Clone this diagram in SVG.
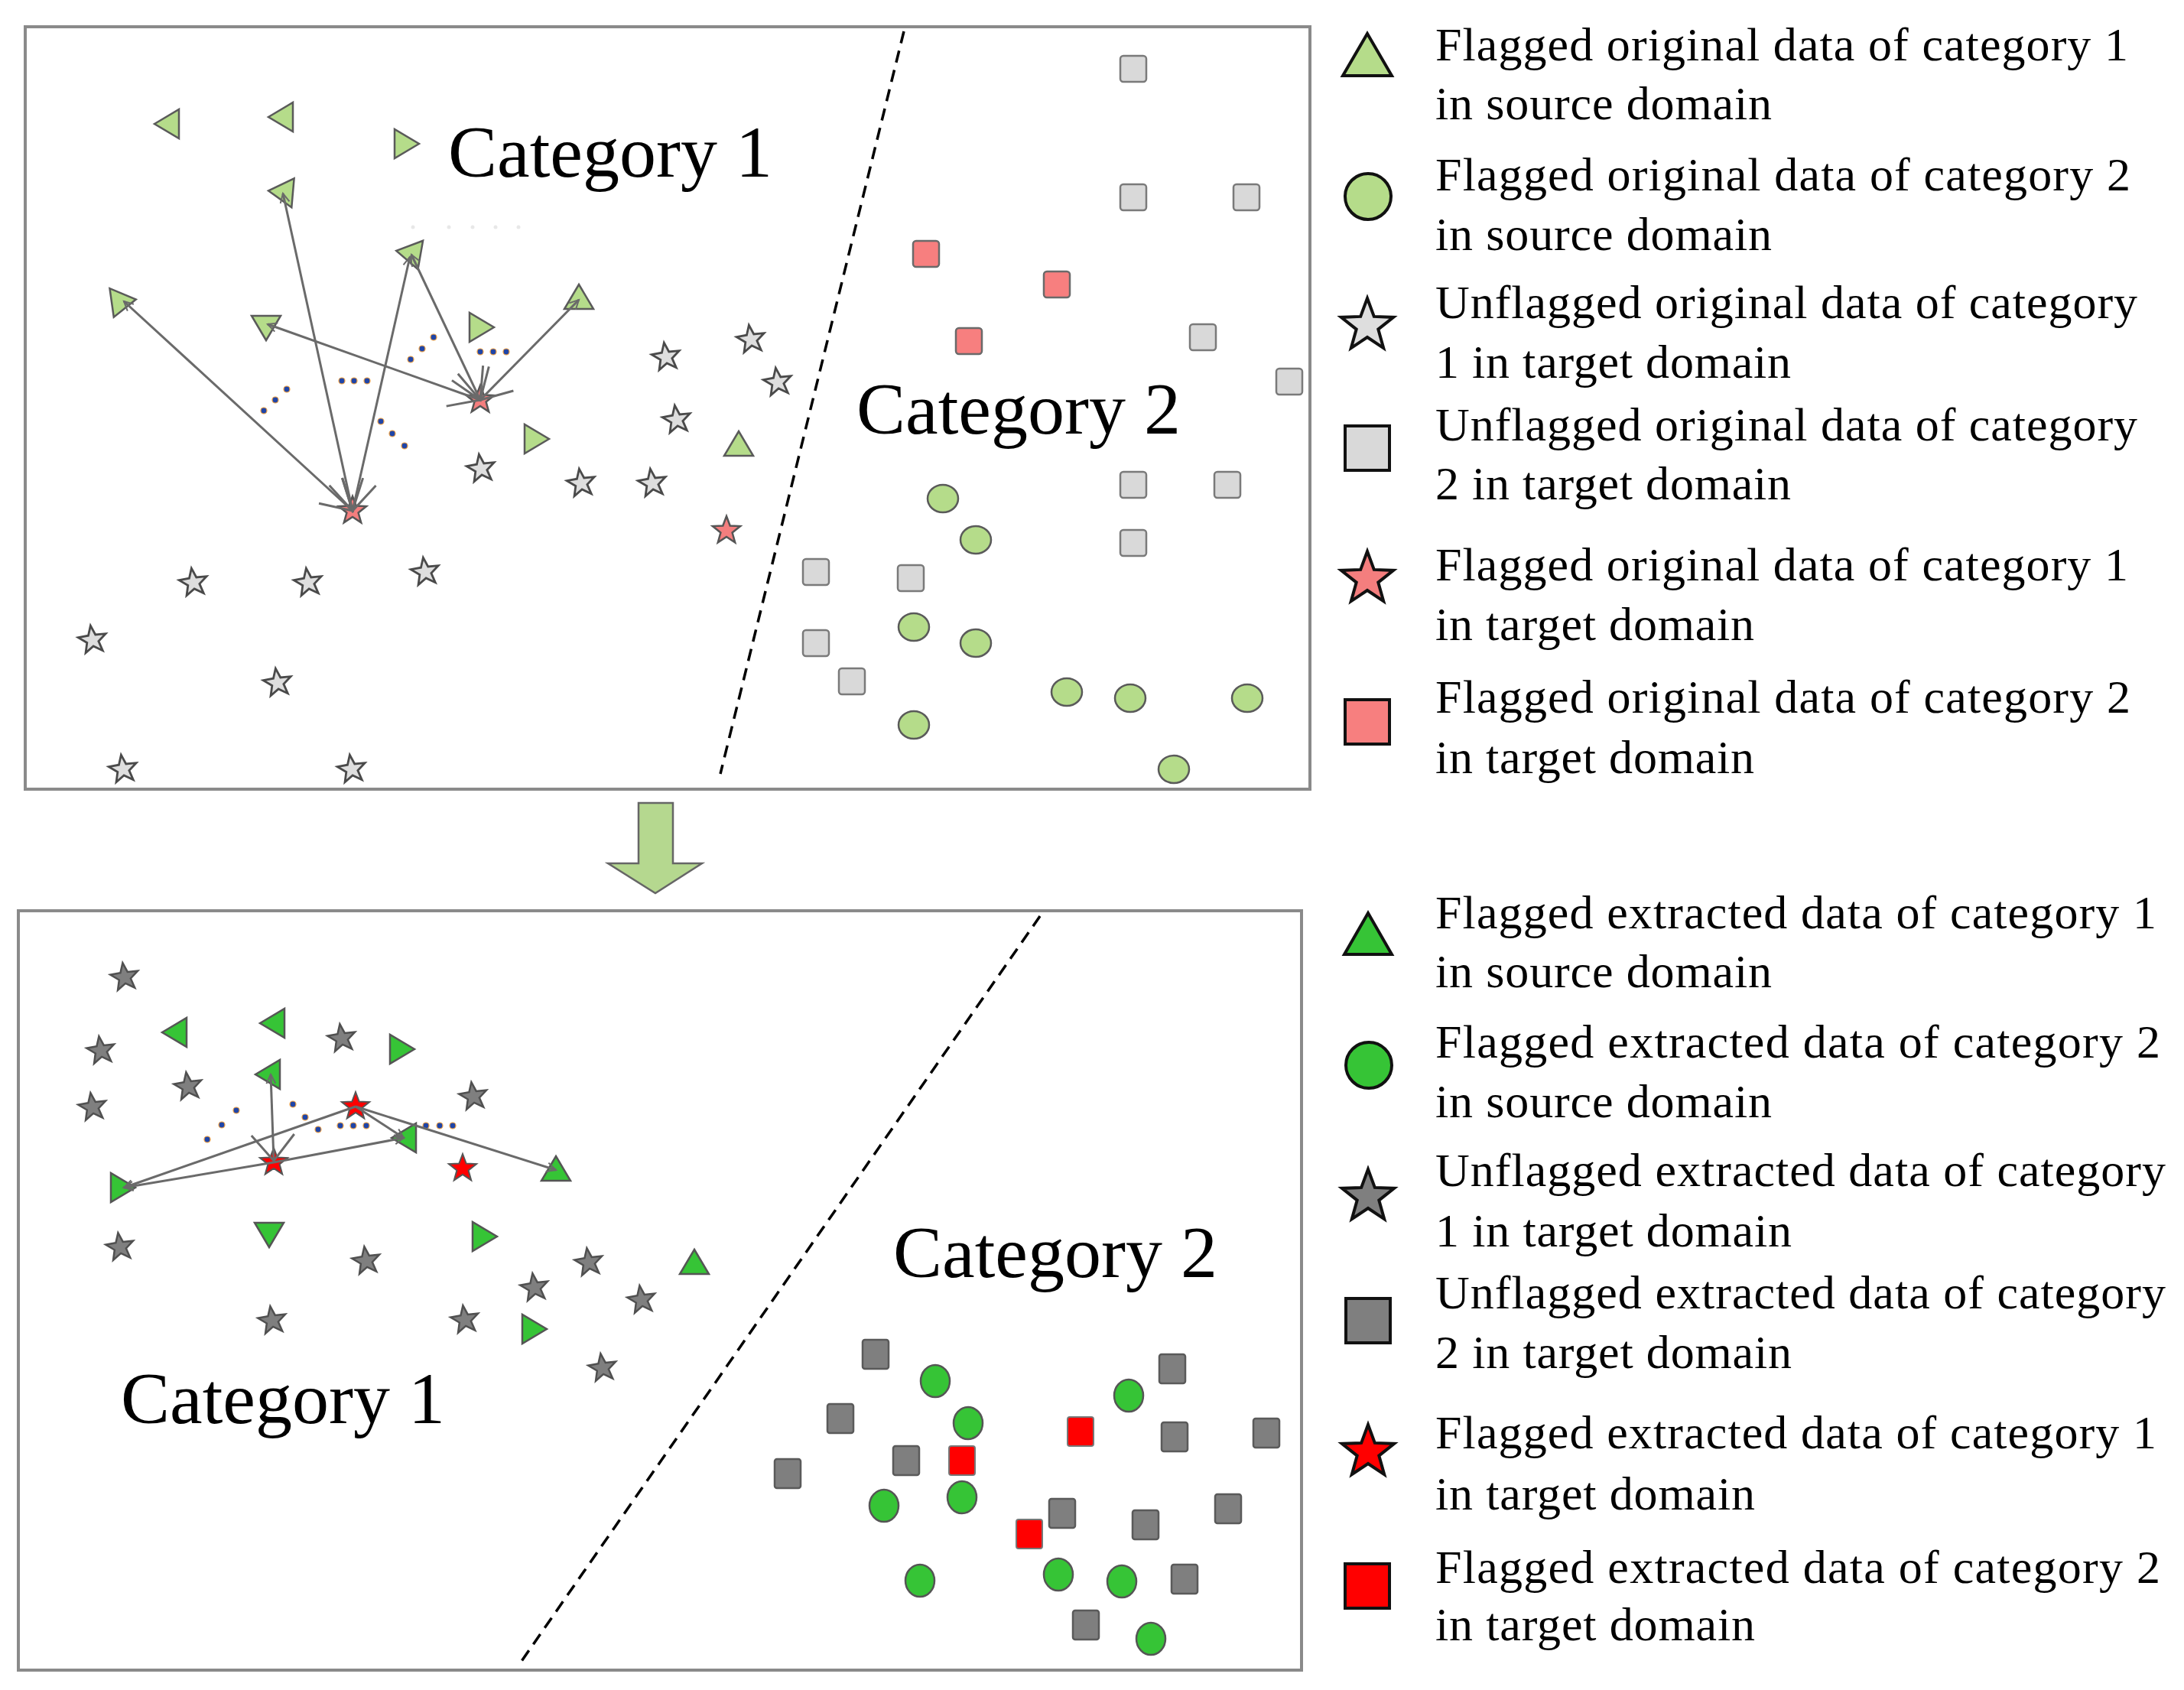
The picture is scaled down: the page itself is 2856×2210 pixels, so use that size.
<svg xmlns="http://www.w3.org/2000/svg" xmlns:xlink="http://www.w3.org/1999/xlink" width="2856" height="2210" viewBox="0 0 2856 2210">
<style>
.lg{fill:#b5dc8a;stroke:#5a5a5a;stroke-width:2.5}
.pk{fill:#f47e7e;stroke:#555;stroke-width:2.5}
.ls{fill:#dedede;stroke:#4a4a4a;stroke-width:2.8}
.sq1{fill:#d9d9d9;stroke:#7a7a7a;stroke-width:2.5}
.psq{fill:#f77f7f;stroke:#6a6a6a;stroke-width:2.5}
.dg{fill:#36c436;stroke:#555;stroke-width:2.5}
.rd{fill:#ff0000;stroke:#555;stroke-width:2}
.gs{fill:#7f7f7f;stroke:#505050;stroke-width:2.5}
.sq2{fill:#7f7f7f;stroke:#5a5a5a;stroke-width:2.5}
.rsq{fill:#ff0000;stroke:#777;stroke-width:2}
.box{fill:none;stroke:#8a8a8a;stroke-width:4}
.div{fill:none;stroke:#000;stroke-width:3.5;stroke-dasharray:16 10}
.cat{font-family:"Liberation Serif","Times New Roman",serif;font-size:96px;fill:#000}
.leg{font-family:"Liberation Serif","Times New Roman",serif;font-size:62px;fill:#000}
.li{stroke:#111;stroke-width:4}
.dot{fill:#1f45a8;stroke:#f0a040;stroke-width:1.2}
.faint{fill:#e8e8e8}
.ar{stroke:#6a6a6a;stroke-width:3;fill:none}
</style>
<defs>
<path id="st" d="M0,-19 L4.7,-6.5 L18.1,-5.9 L7.6,2.5 L11.2,15.4 L0,8 L-11.2,15.4 L-7.6,2.5 L-18.1,-5.9 L-4.7,-6.5 Z"/>
<path id="tu" d="M0,-18 L19,14 L-19,14 Z"/>
<rect id="sq" x="-17" y="-17" width="34" height="34" rx="4"/>
<rect id="sqb" x="-17" y="-19" width="34" height="38" rx="3"/>
<ellipse id="ci" rx="20" ry="18"/>
<ellipse id="cib" rx="19" ry="21"/>
<marker id="barb" viewBox="-45 -30 50 60" refX="0" refY="0" markerWidth="50" markerHeight="60" markerUnits="userSpaceOnUse" orient="auto-start-reverse">
<path d="M-39,-22.5 L0,0 L-39,22.5" fill="none" stroke="#6a6a6a" stroke-width="3"/>
</marker>
<marker id="barb2" viewBox="-45 -35 50 70" refX="0" refY="0" markerWidth="50" markerHeight="70" markerUnits="userSpaceOnUse" orient="auto-start-reverse">
<path d="M-34,-28 L0,0 L-34,28" fill="none" stroke="#6a6a6a" stroke-width="3"/>
</marker>
<marker id="hd" viewBox="-16 -10 20 20" refX="0" refY="0" markerWidth="20" markerHeight="20" markerUnits="userSpaceOnUse" orient="auto">
<path d="M-12,-6 L0,0 L-12,6" fill="none" stroke="#6a6a6a" stroke-width="2"/>
</marker>
</defs>
<rect width="2856" height="2210" fill="#fff"/>

<!-- panels -->
<g id="panel-top">
<rect class="box" x="33" y="35" width="1680" height="997"/>
<line class="div" x1="1182" y1="41" x2="942" y2="1012"/>
<text class="cat" x="586" y="231">Category 1</text>
<text class="cat" x="1120" y="567">Category 2</text>
</g>
<g id="panel-bottom">
<rect class="box" x="24" y="1191" width="1678" height="993"/>
<line class="div" x1="1360" y1="1198" x2="678" y2="2178"/>
<text class="cat" x="158" y="1861">Category 1</text>
<text class="cat" x="1168" y="1670">Category 2</text>
</g>

<!-- faint marks and ellipsis dots -->
<g id="faint">
<circle class="faint" cx="540" cy="297" r="2.5"/><circle class="faint" cx="587" cy="297" r="2.5"/><circle class="faint" cx="618" cy="297" r="2.5"/><circle class="faint" cx="648" cy="297" r="2.5"/><circle class="faint" cx="678" cy="297" r="2.5"/>
</g>
<g id="dots-top">
<circle class="dot" cx="345" cy="537" r="4"/><circle class="dot" cx="360" cy="523" r="4"/><circle class="dot" cx="375" cy="509" r="4"/>
<circle class="dot" cx="447" cy="498" r="4"/><circle class="dot" cx="463" cy="498" r="4"/><circle class="dot" cx="480" cy="498" r="4"/>
<circle class="dot" cx="537" cy="470" r="4"/><circle class="dot" cx="552" cy="456" r="4"/><circle class="dot" cx="567" cy="441" r="4"/>
<circle class="dot" cx="628" cy="460" r="4"/><circle class="dot" cx="645" cy="460" r="4"/><circle class="dot" cx="662" cy="460" r="4"/>
<circle class="dot" cx="498" cy="551" r="4"/><circle class="dot" cx="513" cy="567" r="4"/><circle class="dot" cx="529" cy="583" r="4"/>
</g>
<g id="dots-bottom">
<circle class="dot" cx="271" cy="1490" r="4"/><circle class="dot" cx="290" cy="1471" r="4"/><circle class="dot" cx="309" cy="1452" r="4"/>
<circle class="dot" cx="383" cy="1444" r="4"/><circle class="dot" cx="399" cy="1461" r="4"/><circle class="dot" cx="416" cy="1477" r="4"/>
<circle class="dot" cx="445" cy="1472" r="4"/><circle class="dot" cx="462" cy="1472" r="4"/><circle class="dot" cx="479" cy="1472" r="4"/>
<circle class="dot" cx="557" cy="1472" r="4"/><circle class="dot" cx="575" cy="1472" r="4"/><circle class="dot" cx="592" cy="1472" r="4"/>
</g>

<!-- top panel nodes -->
<g id="top-nodes">
<g id="tt1" transform="translate(220,162) rotate(-90)"><use href="#tu" class="lg"/></g>
<g id="tt2" transform="translate(369,153) rotate(-90)"><use href="#tu" class="lg"/></g>
<g id="tt3" transform="translate(530,188) rotate(90)"><use href="#tu" class="lg"/></g>
<g id="tt4" transform="translate(369,251) rotate(-85)"><use href="#tu" class="lg"/></g>
<g id="tt5" transform="translate(160,394) rotate(82)"><use href="#tu" class="lg"/></g>
<g id="tt6" transform="translate(536,331) rotate(-80)"><use href="#tu" class="lg"/></g>
<g id="tt7" transform="translate(348,427) rotate(180)"><use href="#tu" class="lg"/></g>
<g id="tt8" transform="translate(628,428) rotate(90)"><use href="#tu" class="lg"/></g>
<g id="tt9" transform="translate(757,390)"><use href="#tu" class="lg"/></g>
<g id="tt10" transform="translate(700,574) rotate(90)"><use href="#tu" class="lg"/></g>
<g id="tt11" transform="translate(966,582)"><use href="#tu" class="lg"/></g>

<g id="tps1" transform="translate(628,523)"><use href="#st" class="pk"/></g>
<g id="tps2" transform="translate(461,668)"><use href="#st" class="pk"/></g>
<g id="tps3" transform="translate(950,694)"><use href="#st" class="pk"/></g>

<g id="ts1" transform="translate(871,467) rotate(-8)"><use href="#st" class="ls"/></g>
<g id="ts2" transform="translate(982,444) rotate(-8)"><use href="#st" class="ls"/></g>
<g id="ts3" transform="translate(1017,500) rotate(-8)"><use href="#st" class="ls"/></g>
<g id="ts4" transform="translate(885,549) rotate(-8)"><use href="#st" class="ls"/></g>
<g id="ts5" transform="translate(629,613) rotate(-8)"><use href="#st" class="ls"/></g>
<g id="ts6" transform="translate(760,632) rotate(-8)"><use href="#st" class="ls"/></g>
<g id="ts7" transform="translate(853,632) rotate(-8)"><use href="#st" class="ls"/></g>
<g id="ts8" transform="translate(253,762) rotate(-8)"><use href="#st" class="ls"/></g>
<g id="ts9" transform="translate(403,762) rotate(-8)"><use href="#st" class="ls"/></g>
<g id="ts10" transform="translate(556,748) rotate(-8)"><use href="#st" class="ls"/></g>
<g id="ts11" transform="translate(121,837) rotate(-8)"><use href="#st" class="ls"/></g>
<g id="ts12" transform="translate(363,893) rotate(-8)"><use href="#st" class="ls"/></g>
<g id="ts13" transform="translate(161,1006) rotate(-8)"><use href="#st" class="ls"/></g>
<g id="ts14" transform="translate(460,1006) rotate(-8)"><use href="#st" class="ls"/></g>

<g id="tq1" transform="translate(1482,90)"><use href="#sq" class="sq1"/></g>
<g id="tq2" transform="translate(1482,258)"><use href="#sq" class="sq1"/></g>
<g id="tq3" transform="translate(1630,258)"><use href="#sq" class="sq1"/></g>
<g id="tq4" transform="translate(1573,441)"><use href="#sq" class="sq1"/></g>
<g id="tq5" transform="translate(1686,499)"><use href="#sq" class="sq1"/></g>
<g id="tq6" transform="translate(1482,634)"><use href="#sq" class="sq1"/></g>
<g id="tq7" transform="translate(1605,634)"><use href="#sq" class="sq1"/></g>
<g id="tq8" transform="translate(1482,710)"><use href="#sq" class="sq1"/></g>
<g id="tq9" transform="translate(1067,748)"><use href="#sq" class="sq1"/></g>
<g id="tq10" transform="translate(1191,756)"><use href="#sq" class="sq1"/></g>
<g id="tq11" transform="translate(1067,841)"><use href="#sq" class="sq1"/></g>
<g id="tq12" transform="translate(1114,891)"><use href="#sq" class="sq1"/></g>

<g id="tpq1" transform="translate(1211,332)"><use href="#sq" class="psq"/></g>
<g id="tpq2" transform="translate(1382,372)"><use href="#sq" class="psq"/></g>
<g id="tpq3" transform="translate(1267,446)"><use href="#sq" class="psq"/></g>

<g id="tc1" transform="translate(1233,652)"><use href="#ci" class="lg"/></g>
<g id="tc2" transform="translate(1276,706)"><use href="#ci" class="lg"/></g>
<g id="tc3" transform="translate(1195,820)"><use href="#ci" class="lg"/></g>
<g id="tc4" transform="translate(1276,841)"><use href="#ci" class="lg"/></g>
<g id="tc5" transform="translate(1395,905)"><use href="#ci" class="lg"/></g>
<g id="tc6" transform="translate(1478,913)"><use href="#ci" class="lg"/></g>
<g id="tc7" transform="translate(1631,913)"><use href="#ci" class="lg"/></g>
<g id="tc8" transform="translate(1195,948)"><use href="#ci" class="lg"/></g>
<g id="tc9" transform="translate(1535,1006)"><use href="#ci" class="lg"/></g>
</g>

<!-- bottom panel nodes -->
<g id="bottom-nodes">
<g id="bt1" transform="translate(230,1350) rotate(-90)"><use href="#tu" class="dg"/></g>
<g id="bt2" transform="translate(358,1338) rotate(-90)"><use href="#tu" class="dg"/></g>
<g id="bt3" transform="translate(524,1372) rotate(90)"><use href="#tu" class="dg"/></g>
<g id="bt4" transform="translate(352,1405) rotate(-90)"><use href="#tu" class="dg"/></g>
<g id="bt5" transform="translate(159,1553) rotate(90)"><use href="#tu" class="dg"/></g>
<g id="bt6" transform="translate(530,1488) rotate(-90)"><use href="#tu" class="dg"/></g>
<g id="bt7" transform="translate(727,1530)"><use href="#tu" class="dg"/></g>
<g id="bt8" transform="translate(352,1613) rotate(180)"><use href="#tu" class="dg"/></g>
<g id="bt9" transform="translate(632,1617) rotate(90)"><use href="#tu" class="dg"/></g>
<g id="bt10" transform="translate(908,1652)"><use href="#tu" class="dg"/></g>
<g id="bt11" transform="translate(697,1738) rotate(90)"><use href="#tu" class="dg"/></g>

<g id="brs1" transform="translate(465,1447)"><use href="#st" class="rd"/></g>
<g id="brs2" transform="translate(358,1520)"><use href="#st" class="rd"/></g>
<g id="brs3" transform="translate(605,1528)"><use href="#st" class="rd"/></g>

<g id="bs1" transform="translate(163,1278) rotate(-8)"><use href="#st" class="gs"/></g>
<g id="bs2" transform="translate(132,1374) rotate(-8)"><use href="#st" class="gs"/></g>
<g id="bs3" transform="translate(447,1358) rotate(-8)"><use href="#st" class="gs"/></g>
<g id="bs4" transform="translate(246,1421) rotate(-8)"><use href="#st" class="gs"/></g>
<g id="bs5" transform="translate(121,1448) rotate(-8)"><use href="#st" class="gs"/></g>
<g id="bs6" transform="translate(619,1434) rotate(-8)"><use href="#st" class="gs"/></g>
<g id="bs7" transform="translate(157,1631) rotate(-8)"><use href="#st" class="gs"/></g>
<g id="bs8" transform="translate(479,1649) rotate(-8)"><use href="#st" class="gs"/></g>
<g id="bs9" transform="translate(770,1651) rotate(-8)"><use href="#st" class="gs"/></g>
<g id="bs10" transform="translate(699,1684) rotate(-8)"><use href="#st" class="gs"/></g>
<g id="bs11" transform="translate(839,1700) rotate(-8)"><use href="#st" class="gs"/></g>
<g id="bs12" transform="translate(356,1727) rotate(-8)"><use href="#st" class="gs"/></g>
<g id="bs13" transform="translate(608,1726) rotate(-8)"><use href="#st" class="gs"/></g>
<g id="bs14" transform="translate(788,1789) rotate(-8)"><use href="#st" class="gs"/></g>

<g id="bq1" transform="translate(1145,1771)"><use href="#sqb" class="sq2"/></g>
<g id="bq2" transform="translate(1099,1855)"><use href="#sqb" class="sq2"/></g>
<g id="bq3" transform="translate(1185,1910)"><use href="#sqb" class="sq2"/></g>
<g id="bq4" transform="translate(1030,1927)"><use href="#sqb" class="sq2"/></g>
<g id="bq5" transform="translate(1533,1790)"><use href="#sqb" class="sq2"/></g>
<g id="bq6" transform="translate(1536,1879)"><use href="#sqb" class="sq2"/></g>
<g id="bq7" transform="translate(1656,1874)"><use href="#sqb" class="sq2"/></g>
<g id="bq8" transform="translate(1389,1979)"><use href="#sqb" class="sq2"/></g>
<g id="bq9" transform="translate(1498,1994)"><use href="#sqb" class="sq2"/></g>
<g id="bq10" transform="translate(1606,1973)"><use href="#sqb" class="sq2"/></g>
<g id="bq11" transform="translate(1549,2065)"><use href="#sqb" class="sq2"/></g>
<g id="bq12" transform="translate(1420,2125)"><use href="#sqb" class="sq2"/></g>

<g id="brq1" transform="translate(1413,1872)"><use href="#sqb" class="rsq"/></g>
<g id="brq2" transform="translate(1258,1910)"><use href="#sqb" class="rsq"/></g>
<g id="brq3" transform="translate(1346,2006)"><use href="#sqb" class="rsq"/></g>

<g id="bc1" transform="translate(1223,1806)"><use href="#cib" class="dg"/></g>
<g id="bc2" transform="translate(1266,1861)"><use href="#cib" class="dg"/></g>
<g id="bc3" transform="translate(1476,1825)"><use href="#cib" class="dg"/></g>
<g id="bc4" transform="translate(1156,1969)"><use href="#cib" class="dg"/></g>
<g id="bc5" transform="translate(1258,1958)"><use href="#cib" class="dg"/></g>
<g id="bc6" transform="translate(1203,2067)"><use href="#cib" class="dg"/></g>
<g id="bc7" transform="translate(1384,2059)"><use href="#cib" class="dg"/></g>
<g id="bc8" transform="translate(1467,2068)"><use href="#cib" class="dg"/></g>
<g id="bc9" transform="translate(1505,2143)"><use href="#cib" class="dg"/></g>
</g>

<!-- connectors -->
<g id="connectors">
<line class="ar" x1="628" y1="523" x2="350" y2="424" marker-start="url(#barb)" marker-end="url(#hd)"/>
<line class="ar" x1="628" y1="523" x2="538" y2="333" marker-start="url(#barb)" marker-end="url(#hd)"/>
<line class="ar" x1="628" y1="523" x2="757" y2="392" marker-start="url(#barb)" marker-end="url(#hd)"/>
<line class="ar" x1="461" y1="668" x2="162" y2="394" marker-start="url(#barb)" marker-end="url(#hd)"/>
<line class="ar" x1="461" y1="668" x2="370" y2="253" marker-start="url(#barb)" marker-end="url(#hd)"/>
<line class="ar" x1="461" y1="668" x2="536" y2="336" marker-start="url(#barb)" marker-end="url(#hd)"/>
<line class="ar" x1="358" y1="1518" x2="354" y2="1405" marker-start="url(#barb2)" marker-end="url(#hd)"/>
<line class="ar" x1="465" y1="1447" x2="162" y2="1553" marker-end="url(#hd)"/>
<line class="ar" x1="358" y1="1520" x2="162" y2="1553" marker-end="url(#hd)"/>
<line class="ar" x1="358" y1="1520" x2="528" y2="1488" marker-end="url(#hd)"/>
<line class="ar" x1="465" y1="1447" x2="528" y2="1488" marker-end="url(#hd)"/>
<line class="ar" x1="465" y1="1447" x2="727" y2="1530" marker-end="url(#hd)"/>
</g>

<!-- transition arrow -->
<g id="down-arrow">
<path d="M835,1050 L880,1050 L880,1129 L918,1129 L857,1168 L795,1129 L835,1129 Z" fill="#b5d88f" stroke="#666" stroke-width="2.5" stroke-linejoin="miter"/>
</g>

<!-- legend top -->
<g id="legend-top">
<g id="lt1"><polygon class="lg li" points="1756,99 1820,99 1788,44"/>
<text class="leg" x="1877" y="79" textLength="906" lengthAdjust="spacing">Flagged original data of category 1</text>
<text class="leg" x="1877" y="156" textLength="440" lengthAdjust="spacing">in source domain</text></g>
<g id="lt2"><circle class="lg li" cx="1789" cy="257" r="30"/>
<text class="leg" x="1877" y="249" textLength="909" lengthAdjust="spacing">Flagged original data of category 2</text>
<text class="leg" x="1877" y="327" textLength="440" lengthAdjust="spacing">in source domain</text></g>
<g id="lt3"><path class="ls li" transform="translate(1788,426)" d="M0,-36 L8.8,-12.1 L34.2,-11.1 L14.3,4.6 L21.2,29.1 L0,15 L-21.2,29.1 L-14.3,4.6 L-34.2,-11.1 L-8.8,-12.1 Z"/>
<text class="leg" x="1877" y="416" textLength="918" lengthAdjust="spacing">Unflagged original data of category</text>
<text class="leg" x="1877" y="494" textLength="465" lengthAdjust="spacing">1 in target domain</text></g>
<g id="lt4"><rect class="sq1 li" x="1759" y="557" width="58" height="58"/>
<text class="leg" x="1877" y="576" textLength="918" lengthAdjust="spacing">Unflagged original data of category</text>
<text class="leg" x="1877" y="653" textLength="465" lengthAdjust="spacing">2 in target domain</text></g>
<g id="lt5"><path class="pk li" transform="translate(1788,757)" d="M0,-36 L8.8,-12.1 L34.2,-11.1 L14.3,4.6 L21.2,29.1 L0,15 L-21.2,29.1 L-14.3,4.6 L-34.2,-11.1 L-8.8,-12.1 Z"/>
<text class="leg" x="1877" y="759" textLength="906" lengthAdjust="spacing">Flagged original data of category 1</text>
<text class="leg" x="1877" y="837" textLength="417" lengthAdjust="spacing">in target domain</text></g>
<g id="lt6"><rect class="psq li" x="1759" y="915" width="58" height="58"/>
<text class="leg" x="1877" y="932" textLength="909" lengthAdjust="spacing">Flagged original data of category 2</text>
<text class="leg" x="1877" y="1011" textLength="417" lengthAdjust="spacing">in target domain</text></g>
</g>

<!-- legend bottom -->
<g id="legend-bottom">
<g id="lb1"><polygon class="dg li" points="1758,1248 1820,1248 1789,1194"/>
<text class="leg" x="1877" y="1214" textLength="943" lengthAdjust="spacing">Flagged extracted data of category 1</text>
<text class="leg" x="1877" y="1291" textLength="440" lengthAdjust="spacing">in source domain</text></g>
<g id="lb2"><circle class="dg li" cx="1790" cy="1393" r="30"/>
<text class="leg" x="1877" y="1383" textLength="948" lengthAdjust="spacing">Flagged extracted data of category 2</text>
<text class="leg" x="1877" y="1461" textLength="440" lengthAdjust="spacing">in source domain</text></g>
<g id="lb3"><path class="gs li" transform="translate(1789,1565)" d="M0,-36 L8.8,-12.1 L34.2,-11.1 L14.3,4.6 L21.2,29.1 L0,15 L-21.2,29.1 L-14.3,4.6 L-34.2,-11.1 L-8.8,-12.1 Z"/>
<text class="leg" x="1877" y="1551" textLength="955" lengthAdjust="spacing">Unflagged extracted data of category</text>
<text class="leg" x="1877" y="1630" textLength="466" lengthAdjust="spacing">1 in target domain</text></g>
<g id="lb4"><rect class="sq2 li" x="1760" y="1698" width="58" height="58"/>
<text class="leg" x="1877" y="1711" textLength="955" lengthAdjust="spacing">Unflagged extracted data of category</text>
<text class="leg" x="1877" y="1789" textLength="466" lengthAdjust="spacing">2 in target domain</text></g>
<g id="lb5"><path class="rd li" transform="translate(1789,1899)" d="M0,-36 L8.8,-12.1 L34.2,-11.1 L14.3,4.6 L21.2,29.1 L0,15 L-21.2,29.1 L-14.3,4.6 L-34.2,-11.1 L-8.8,-12.1 Z"/>
<text class="leg" x="1877" y="1894" textLength="943" lengthAdjust="spacing">Flagged extracted data of category 1</text>
<text class="leg" x="1877" y="1974" textLength="418" lengthAdjust="spacing">in target domain</text></g>
<g id="lb6"><rect class="rsq li" x="1759" y="2045" width="58" height="58"/>
<text class="leg" x="1877" y="2070" textLength="948" lengthAdjust="spacing">Flagged extracted data of category 2</text>
<text class="leg" x="1877" y="2145" textLength="418" lengthAdjust="spacing">in target domain</text></g>
</g>
</svg>
